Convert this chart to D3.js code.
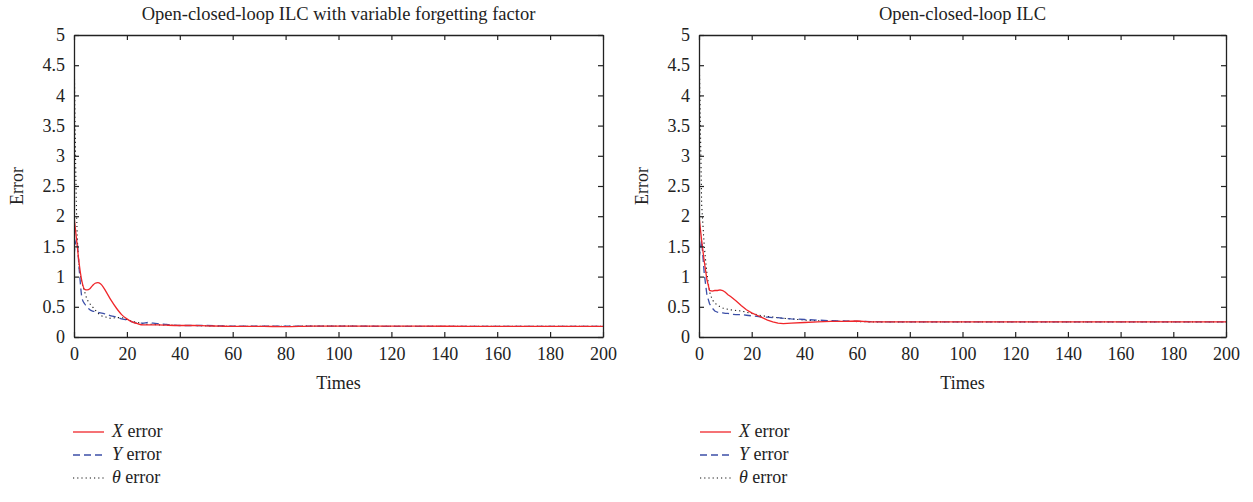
<!DOCTYPE html>
<html><head><meta charset="utf-8">
<script src="https://cdn.jsdelivr.net/npm/d3@7/dist/d3.min.js"></script>
<style>
html,body{margin:0;padding:0;background:#fff;}
svg{display:block;}
text{font-family:"Liberation Serif","DejaVu Serif",serif;fill:#222;}
</style></head>
<body><svg id="c" width="1253" height="502"></svg>
<script>
// ---- data ----
const titles = ["Open-closed-loop ILC with variable forgetting factor", "Open-closed-loop ILC"];
const xTicks = [0,20,40,60,80,100,120,140,160,180,200];
const yTicks = [0,0.5,1,1.5,2,2.5,3,3.5,4,4.5,5];
const yTickLabels = ["0","0.5","1","1.5","2","2.5","3","3.5","4","4.5","5"];
const iters = [0,1,2,3,4,5,6,7,8,9,10,11,12,14,16,18,20,22,24,26,28,30,32,35,40,45,50,55,60,65,70,80,90,100,120,140,160,180,200];

// left chart (variable forgetting factor)
const leftX = [2.0,1.6,1.2,0.92,0.79,0.78,0.8,0.85,0.89,0.9,0.88,0.83,0.76,0.61,0.48,0.37,0.3,0.25,0.22,0.2,0.2,0.2,0.2,0.195,0.19,0.19,0.185,0.18,0.175,0.175,0.175,0.172,0.18,0.18,0.18,0.178,0.177,0.177,0.177];
const leftY = [1.35,1.62,1.1,0.65,0.55,0.5,0.45,0.43,0.42,0.41,0.4,0.39,0.38,0.35,0.33,0.3,0.28,0.25,0.23,0.23,0.24,0.23,0.22,0.21,0.19,0.19,0.19,0.185,0.18,0.18,0.178,0.178,0.18,0.18,0.177,0.177,0.177,0.177,0.177];
const leftT = [4.9,2.0,1.15,0.9,0.75,0.62,0.55,0.5,0.45,0.4,0.36,0.34,0.33,0.31,0.32,0.32,0.29,0.26,0.24,0.22,0.21,0.21,0.2,0.2,0.19,0.19,0.185,0.18,0.178,0.178,0.178,0.178,0.18,0.18,0.177,0.177,0.177,0.177,0.177];

// right chart (no variable forgetting factor)
const rightX = [2.0,1.6,1.25,0.95,0.77,0.76,0.77,0.77,0.78,0.77,0.74,0.7,0.67,0.6,0.52,0.45,0.4,0.36,0.32,0.28,0.25,0.23,0.22,0.23,0.24,0.25,0.26,0.26,0.265,0.25,0.25,0.25,0.25,0.25,0.25,0.25,0.25,0.25,0.25];
const rightY = [1.3,1.6,1.05,0.7,0.55,0.48,0.43,0.41,0.4,0.4,0.39,0.39,0.38,0.37,0.37,0.36,0.35,0.34,0.33,0.33,0.32,0.32,0.31,0.3,0.29,0.28,0.27,0.265,0.26,0.255,0.25,0.25,0.25,0.25,0.25,0.25,0.25,0.25,0.25];
const rightT = [4.9,2.2,1.5,1.05,0.75,0.62,0.56,0.53,0.5,0.48,0.47,0.46,0.45,0.44,0.43,0.41,0.39,0.37,0.35,0.34,0.33,0.32,0.31,0.3,0.28,0.27,0.26,0.26,0.255,0.25,0.25,0.25,0.25,0.25,0.25,0.25,0.25,0.25,0.25];

const seriesNames = ["X", "Y", "\u03b8"];
const seriesColors = ["#f0262a", "#3c4fa8", "#111"];
const seriesDash = [null, "7,4", "1.2,3"];

// ---- drawing ----
const svg = d3.select("#c");
const panels = [
  {left:74, right:603, series:[leftX,leftY,leftT], title:titles[0], legX:73, ylabX:18},
  {left:699, right:1226, series:[rightX,rightY,rightT], title:titles[1], legX:700, ylabX:643}
];
const plotTop = 35, plotBottom = 337;

panels.forEach((p, pi) => {
  const x = d3.scaleLinear().domain([0,200]).range([p.left, p.right]);
  const y = d3.scaleLinear().domain([0,5]).range([plotBottom, plotTop]);
  const g = svg.append("g");

  const clipId = "clip"+pi;
  svg.append("clipPath").attr("id", clipId).append("rect")
    .attr("x", p.left).attr("y", plotTop).attr("width", p.right-p.left).attr("height", plotBottom-plotTop);

  // lines
  const line = d3.line().x((d,i)=>x(iters[i])).y(d=>y(d)).curve(pi===0?d3.curveMonotoneX:d3.curveLinear);
  const order = [2,1,0];
  order.forEach(si => {
    g.append("path").datum(p.series[si])
      .attr("d", line)
      .attr("fill","none")
      .attr("stroke", seriesColors[si])
      .attr("stroke-width", si===2?1.1:1.3)
      .attr("stroke-dasharray", seriesDash[si])
      .attr("clip-path", `url(#${clipId})`);
  });

  // axes
  const axB = d3.axisBottom(x).tickValues(xTicks).tickSizeInner(-5).tickSizeOuter(0).tickPadding(10);
  const axT = d3.axisTop(x).tickValues(xTicks).tickSizeInner(-5).tickSizeOuter(0).tickFormat("");
  const axL = d3.axisLeft(y).tickValues(yTicks).tickSizeInner(-5).tickSizeOuter(0).tickPadding(9)
      .tickFormat((d,i)=>yTickLabels[i]);
  const axR = d3.axisRight(y).tickValues(yTicks).tickSizeInner(-5).tickSizeOuter(0).tickFormat("");

  [[axB,`translate(0,${plotBottom})`],[axT,`translate(0,${plotTop})`],[axL,`translate(${p.left},0)`],[axR,`translate(${p.right},0)`]]
  .forEach(([ax,tr]) => {
    const a = g.append("g").attr("transform", tr).call(ax);
    a.select(".domain").attr("stroke","#222").attr("stroke-width",1.3);
    a.selectAll(".tick line").attr("stroke","#222").attr("stroke-width",1.2);
    a.selectAll(".tick text").style("font-family",'"Liberation Serif",serif').style("font-size","18px").attr("fill","#222");
  });

  // title
  g.append("text").attr("x",(p.left+p.right)/2).attr("y",20).attr("text-anchor","middle")
    .style("font-size","18.5px").text(p.title);
  // x label
  g.append("text").attr("x",(p.left+p.right)/2).attr("y",389).attr("text-anchor","middle")
    .style("font-size","18px").text("Times");
  // y label
  g.append("text").attr("transform",`translate(${p.ylabX+5},${(plotTop+plotBottom)/2}) rotate(-90)`)
    .attr("text-anchor","middle").style("font-size","18px").text("Error");

  // legend
  const rows = [432, 455, 478];
  seriesNames.forEach((nm, si) => {
    g.append("line").attr("x1",p.legX).attr("x2",p.legX+31).attr("y1",rows[si]).attr("y2",rows[si])
      .attr("stroke",seriesColors[si]).attr("stroke-width",si===2?1.1:1.3)
      .attr("stroke-dasharray",seriesDash[si]);
    const t = g.append("text").attr("x",p.legX+39).attr("y",rows[si]+5).style("font-size","18px");
    t.append("tspan").style("font-style","italic").text(nm);
    t.append("tspan").text(" error");
  });
});
</script></body></html>
